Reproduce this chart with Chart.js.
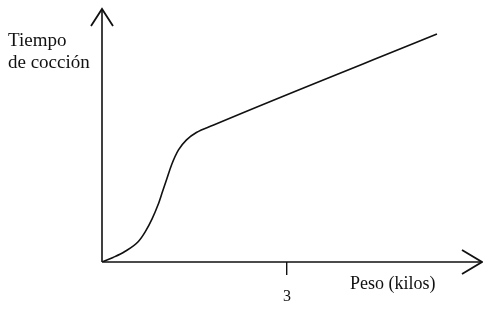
<!DOCTYPE html>
<html>
<head>
<meta charset="utf-8">
<script src="https://cdn.jsdelivr.net/npm/chart.js@4.4.1/dist/chart.umd.min.js"></script>
<style>
  html, body { margin: 0; padding: 0; background: #fff; }
  #wrap { width: 483px; height: 323px; }
</style>
</head>
<body>
<div id="wrap"><canvas id="c" width="483" height="323"></canvas></div>
<script>
// Weight (kilos) and cooking time (arbitrary units)
const peso   = [0, 0.18, 0.37, 0.59, 0.70, 0.81, 0.91, 0.98, 1.05, 1.13, 1.24, 1.37, 1.53, 1.80, 5.43];
const tiempo = [0, 0.5,  1.15, 2.25, 3.3,  4.7,  6.3,  7.7,  9.1,  10.7, 12.3, 13.4, 14.2, 15.0, 25.0];
const xTicks = [3];
const yLabelLines = ['Tiempo', 'de cocción'];
const xLabel = 'Peso (kilos)';
const xMax = 6.16;
const yMax = 27.75;

const points = peso.map((v, i) => ({ x: v, y: tiempo[i] }));
const INK = '#111';
const SERIF = '"Liberation Serif", "Times New Roman", serif';

const decor = {
  id: 'decor',
  beforeDraw(chart) {
    const ctx = chart.ctx;
    ctx.save();
    ctx.fillStyle = '#fff';
    ctx.fillRect(0, 0, chart.width, chart.height);
    ctx.restore();
  },
  afterDraw(chart) {
    const ctx = chart.ctx;
    const xs = chart.scales.x, ys = chart.scales.y;
    const x0 = xs.getPixelForValue(0), y0 = ys.getPixelForValue(0);
    const xEnd = xs.getPixelForValue(xMax), yEnd = ys.getPixelForValue(yMax);
    ctx.save();
    ctx.strokeStyle = INK;
    ctx.lineWidth = 1.6;
    // axis lines
    ctx.beginPath();
    ctx.moveTo(x0, y0); ctx.lineTo(x0, yEnd);
    ctx.moveTo(x0, y0); ctx.lineTo(xEnd, y0);
    ctx.stroke();
    // arrow heads
    ctx.lineWidth = 1.8;
    ctx.beginPath();
    ctx.moveTo(x0 - 11, yEnd + 17); ctx.lineTo(x0, yEnd); ctx.lineTo(x0 + 11, yEnd + 17);
    ctx.moveTo(xEnd - 20, y0 - 12); ctx.lineTo(xEnd, y0); ctx.lineTo(xEnd - 20, y0 + 12);
    ctx.stroke();
    // axis titles
    ctx.fillStyle = INK;
    ctx.font = '19px ' + SERIF;
    ctx.textBaseline = 'alphabetic';
    ctx.textAlign = 'left';
    ctx.fillText(yLabelLines[0], 8, 46);
    ctx.fillText(yLabelLines[1], 8, 68);
    ctx.font = '18px ' + SERIF;
    ctx.fillText(xLabel, 350, y0 + 27);
    ctx.restore();
  }
};

new Chart(document.getElementById('c'), {
  type: 'scatter',
  data: {
    datasets: [{
      data: points,
      showLine: true,
      borderColor: INK,
      borderWidth: 1.6,
      pointRadius: 0,
      cubicInterpolationMode: 'monotone',
      fill: false
    }]
  },
  options: {
    responsive: false,
    animation: false,
    events: [],
    layout: { padding: { left: 0, right: 1, top: 9, bottom: 0 } },
    plugins: { legend: { display: false }, tooltip: { enabled: false } },
    scales: {
      x: {
        type: 'linear', min: 0, max: xMax,
        afterBuildTicks: s => { s.ticks = xTicks.map(v => ({ value: v })); },
        afterFit: s => { s.height = 61; },
        border: { display: false },
        grid: { display: true, drawOnChartArea: false, drawTicks: true, tickLength: 13, color: INK, lineWidth: 1.4 },
        ticks: { color: INK, padding: 12, maxRotation: 0, font: { family: SERIF, size: 16 } }
      },
      y: {
        type: 'linear', min: 0, max: yMax,
        afterFit: s => { s.width = 102; },
        border: { display: false },
        grid: { display: false },
        ticks: { display: false }
      }
    }
  },
  plugins: [decor]
});
</script>
</body>
</html>
